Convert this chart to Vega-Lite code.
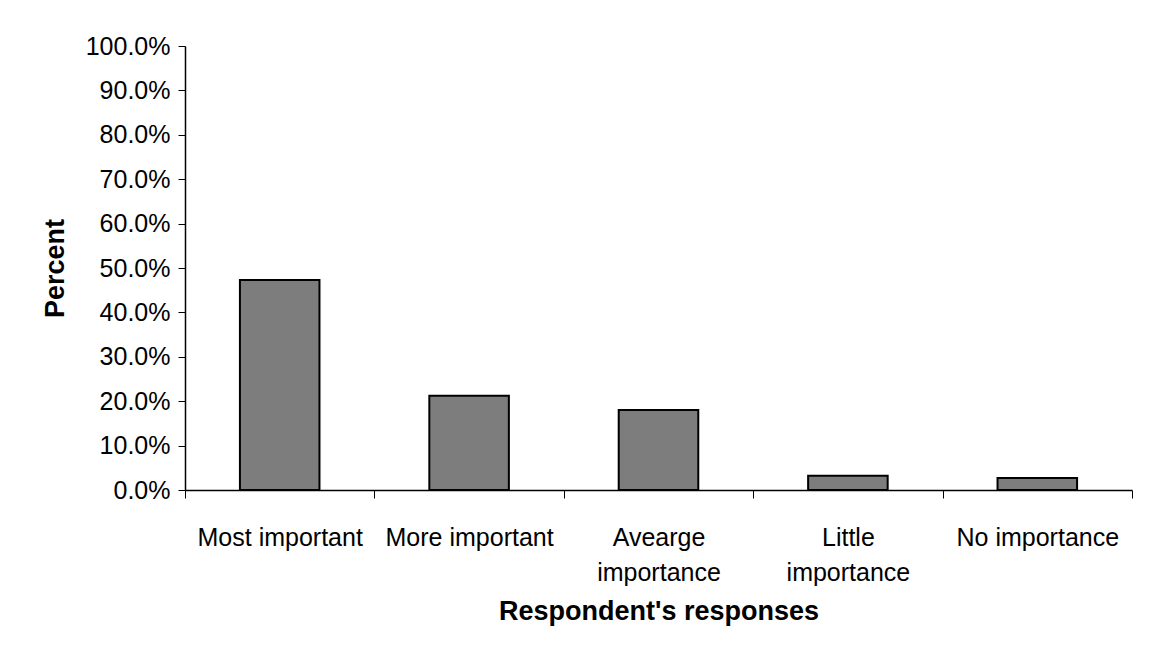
{
  "$schema": "https://vega.github.io/schema/vega-lite/v6.json",
  "width": 947,
  "height": 444,
  "padding": {"left": 41, "top": 34, "right": 20, "bottom": 10},
  "background": "white",
  "config": {
    "view": {"stroke": null},
    "font": "Liberation Sans"
  },
  "data": {
    "values": [
      {"response": "Most important", "percent": 0.473},
      {"response": "More important", "percent": 0.212},
      {"response": "Avearge importance", "percent": 0.18},
      {"response": "Little importance", "percent": 0.032},
      {"response": "No importance", "percent": 0.027}
    ]
  },
  "mark": {"type": "bar", "width": {"band": 0.42}, "fill": "#7d7d7d", "stroke": "black", "strokeWidth": 2},
  "encoding": {
    "x": {
      "field": "response",
      "type": "nominal",
      "sort": null,
      "scale": {"paddingInner": 0, "paddingOuter": 0},
      "axis": {
        "title": "Respondent's responses",
        "titleFontSize": 27,
        "titleFontWeight": "bold",
        "titleColor": "black",
        "titlePadding": 13,
        "labelAngle": 0,
        "labelFontSize": 25,
        "labelColor": "black",
        "labelPadding": 27,
        "labelLimit": 300,
        "labelLineHeight": 35,
        "labelExpr": "datum.value == 'Avearge importance' ? ['Avearge', 'importance'] : datum.value == 'Little importance' ? ['Little', 'importance'] : datum.value",
        "tickBand": "extent",
        "tickSize": 8,
        "tickColor": "black",
        "domainColor": "black",
        "domainWidth": 1.5
      }
    },
    "y": {
      "field": "percent",
      "type": "quantitative",
      "scale": {"domain": [0, 1], "nice": false},
      "axis": {
        "title": "Percent",
        "titleFontSize": 27,
        "titleFontWeight": "bold",
        "titleColor": "black",
        "titlePadding": 16,
        "values": [0, 0.1, 0.2, 0.3, 0.4, 0.5, 0.6, 0.7, 0.8, 0.9, 1.0],
        "format": ".1%",
        "labelFontSize": 25,
        "labelColor": "black",
        "labelPadding": 8,
        "tickSize": 7,
        "tickColor": "black",
        "domainColor": "black",
        "domainWidth": 1.5,
        "grid": false
      }
    }
  }
}
